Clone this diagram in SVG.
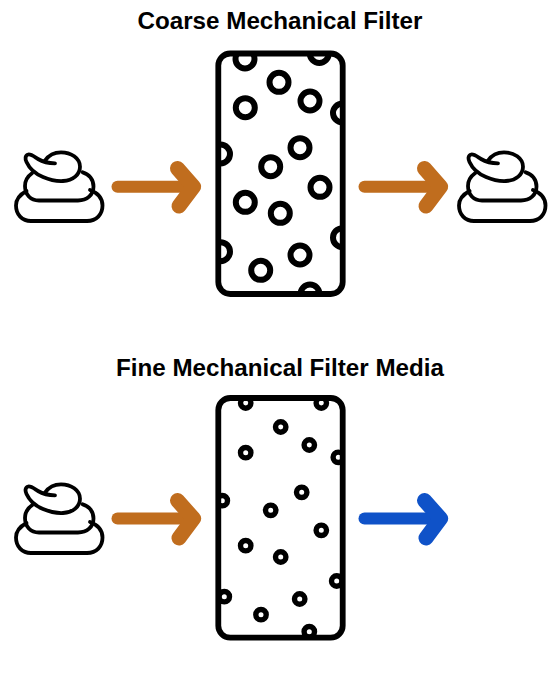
<svg xmlns="http://www.w3.org/2000/svg" width="560" height="689" viewBox="0 0 560 689">
<style>
.title{font-family:"Liberation Sans",Arial,sans-serif;font-weight:700;font-size:24.2px;fill:#000;text-anchor:middle}
.poop path{fill:none;stroke:#000;stroke-width:3.8;stroke-linecap:round;stroke-linejoin:round}
.frame{fill:none;stroke:#000;stroke-width:5.8}
.coarse circle{fill:none;stroke:#000;stroke-width:6}
.fine circle{fill:none;stroke:#000;stroke-width:5.4}
.arrow{fill:none;stroke-linecap:round;stroke-linejoin:round}
.shaft{stroke-width:12}
.head{stroke-width:15}
.brown{stroke:#c06d1e}
.blue{stroke:#0f52c8}
</style>
<defs>
<g id="poop" class="poop">
<path d="M26.5 191C20 194.5 16 199.5 16 205.5C16 214.5 22 221 31 221L87 221C96.5 221 102.5 214.5 102.5 205.5C102.5 198.5 98 193 90 190"/>
<path d="M32 173.3C27.5 176.5 25 181 25 186C25 194.5 30.5 200.5 39 200.5L78 200.5C87 200.5 93.5 195 93.5 186.5C93.5 179.5 89 174 82.7 172.3"/>
<path d="M55 163.3C49 163.3 43 162 38 159C34 156.5 31 154 28.3 154.5C25 155.2 25 159 26.5 162C29 167.5 34.5 173.5 43 177C50 180 57 181.3 63 181C73 180.5 80 174.5 80 166.7C80 158 71 152.3 61 152.3C54 152.3 48.5 155.5 45 160.5"/>
</g>
<clipPath id="c1"><rect x="218" y="53.5" width="125" height="241" rx="12"/></clipPath>
<clipPath id="c2"><rect x="218" y="398" width="125" height="240" rx="12"/></clipPath>
</defs>
<rect width="560" height="689" fill="#fff"/>
<text class="title" x="280" y="29">Coarse Mechanical Filter</text>
<text class="title" x="280" y="376">Fine Mechanical Filter Media</text>
<g id="waste-in-1"><use href="#poop"/></g>
<g id="waste-out-1"><use href="#poop" x="443"/></g>
<g id="waste-in-2"><use href="#poop" y="332"/></g>
<g id="coarse-filter" class="coarse">
<g clip-path="url(#c1)">
<circle cx="245" cy="59" r="9.5"/><circle cx="319.3" cy="53.5" r="9.5"/><circle cx="279" cy="82.3" r="9.5"/><circle cx="310" cy="101" r="9.5"/><circle cx="245.3" cy="107.7" r="9.5"/><circle cx="342.5" cy="113" r="9.5"/><circle cx="300" cy="147.7" r="9.5"/><circle cx="220.5" cy="154" r="9.5"/><circle cx="270.7" cy="166.7" r="9.5"/><circle cx="320" cy="187.3" r="9.5"/><circle cx="245.3" cy="202.3" r="9.5"/><circle cx="280.3" cy="213.3" r="9.5"/><circle cx="342.5" cy="237.7" r="9.5"/><circle cx="300" cy="255" r="9.5"/><circle cx="220.5" cy="251.7" r="9.5"/><circle cx="260.7" cy="270.3" r="9.5"/><circle cx="310" cy="294" r="9.5"/>
</g>
<rect class="frame" x="218.3" y="53.5" width="124.4" height="240.5" rx="12"/>
</g>
<g id="fine-filter" class="fine">
<g clip-path="url(#c2)">
<circle cx="245.7" cy="403" r="5.2"/><circle cx="321.3" cy="403" r="5.2"/><circle cx="280.7" cy="427" r="5.2"/><circle cx="309.3" cy="445" r="5.2"/><circle cx="245.7" cy="452.7" r="5.2"/><circle cx="338.3" cy="457.3" r="5.2"/><circle cx="301.7" cy="492.3" r="5.2"/><circle cx="222.3" cy="500.7" r="5.2"/><circle cx="270.7" cy="510.3" r="5.2"/><circle cx="321.3" cy="530.3" r="5.2"/><circle cx="245.7" cy="545.7" r="5.2"/><circle cx="280.7" cy="557" r="5.2"/><circle cx="336.7" cy="581" r="5.2"/><circle cx="299.7" cy="599" r="5.2"/><circle cx="224.3" cy="596.7" r="5.2"/><circle cx="261" cy="614.7" r="5.2"/><circle cx="309.3" cy="631.7" r="5.2"/>
</g>
<rect class="frame" x="218.3" y="398" width="124.4" height="239.7" rx="12"/>
</g>
<g id="connectors">
<path class="arrow shaft brown" d="M117.5 186.7H192"/><path class="arrow head brown" d="M177.5 168.5L193.5 186.7L179 206"/>
<path class="arrow shaft brown" d="M364.5 186.7H439"/><path class="arrow head brown" d="M424.5 168.5L440.5 186.7L426 206"/>
<path class="arrow shaft brown" d="M117.5 518.5H192"/><path class="arrow head brown" d="M177.5 500.5L193.5 518.5L179 538"/>
<path class="arrow shaft blue" d="M364.5 518.5H439"/><path class="arrow head blue" d="M424.5 500.5L440.5 518.5L426 538"/>
</g>
</svg>
